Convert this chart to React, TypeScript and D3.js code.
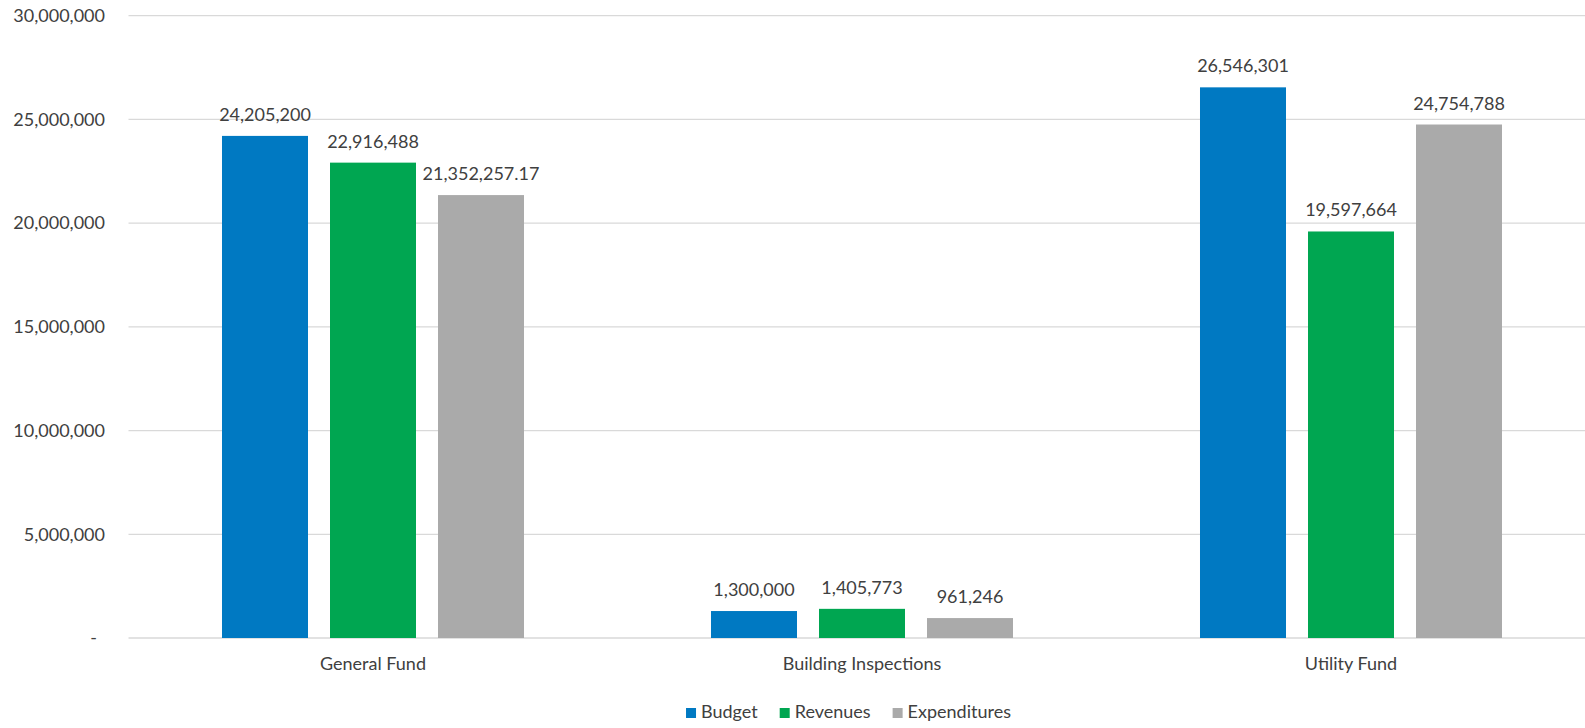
import { scaleBand, scaleLinear, format } from "d3";
import { useEffect, useMemo } from "react";

const categories = ["General Fund", "Building Inspections", "Utility Fund"];
const seriesNames = ["Budget", "Revenues", "Expenditures"];
const budget = [24205200, 1300000, 26546301];
const revenues = [22916488, 1405773, 19597664];
const expenditures = [21352257.17, 961246, 24754788];
const valueLabels = [
  ["24,205,200", "1,300,000", "26,546,301"],
  ["22,916,488", "1,405,773", "19,597,664"],
  ["21,352,257.17", "961,246", "24,754,788"]
];
const yTicks = [0, 5000000, 10000000, 15000000, 20000000, 25000000, 30000000];
const seriesColors = ["#0079c2", "#00a651", "#aaaaaa"];

const width = 1585;
const height = 728;
const plotLeft = 128.5;
const plotRight = 1595.5;
const plotTop = 15.7;
const plotBottom = 638;
const fontFamily = "Lato, 'Open Sans', sans-serif";
const fontSize = 18;
const textColor = "#404040";

function measure(text: string) {
  const canvas = document.createElement("canvas");
  const ctx = canvas.getContext("2d");
  if (!ctx) {
    return text.length * 9;
  }
  ctx.font = `${fontSize}px ${fontFamily}`;
  return ctx.measureText(text).width;
}

function App() {
  useEffect(() => {
    document.body.style.margin = "0";
  }, []);

  const seriesValues = [budget, revenues, expenditures];

  const x0 = useMemo(
    () => scaleBand<string>().domain(categories).range([plotLeft, plotRight]),
    []
  );
  const x1 = useMemo(
    () =>
      scaleBand<string>()
        .domain(seriesNames)
        .range([0, x0.bandwidth()])
        .paddingInner(0.2037)
        .paddingOuter(0.8657),
    [x0]
  );
  const y = useMemo(
    () => scaleLinear().domain([0, 30000000]).range([plotBottom, plotTop]),
    []
  );
  const tickFormat = format(",");

  const legendItems = useMemo(() => {
    const square = 10;
    const textGap = 5;
    const itemGap = 22;
    let cursor = 0;
    const items = seriesNames.map((name, i) => {
      const w = measure(name);
      const item = { name, color: seriesColors[i], x: cursor, textX: cursor + square + textGap };
      cursor += square + textGap + w + itemGap;
      return item;
    });
    const total = cursor - itemGap;
    const start = width / 2 + 56 - total / 2;
    return items.map((d) => ({ ...d, x: d.x + start, textX: d.textX + start }));
  }, []);

  return (
    <svg width={width} height={height} style={{ display: "block", background: "#fff" }}>
      <g fontFamily={fontFamily} fontSize={fontSize} fill={textColor}>
        {yTicks.map((t) => (
          <g key={`tick-${t}`}>
            <line
              x1={plotLeft}
              x2={plotRight}
              y1={y(t)}
              y2={y(t)}
              stroke="#d9d9d9"
              strokeWidth={t === 0 ? 1.6 : 1.3}
            />
            <text
              x={t === 0 ? 97 : 105}
              y={y(t)}
              dy="0.35em"
              textAnchor="end"
            >
              {t === 0 ? "-" : tickFormat(t)}
            </text>
          </g>
        ))}
        {categories.map((cat, ci) => {
          const gx = x0(cat) ?? 0;
          return (
            <g key={cat}>
              {seriesNames.map((s, si) => {
                const v = seriesValues[si][ci];
                const bx = gx + (x1(s) ?? 0);
                const bw = x1.bandwidth();
                return (
                  <g key={s}>
                    <rect
                      x={bx}
                      y={y(v)}
                      width={bw}
                      height={plotBottom - y(v)}
                      fill={seriesColors[si]}
                    />
                    <text x={bx + bw / 2} y={y(v) - 15} textAnchor="middle">
                      {valueLabels[si][ci]}
                    </text>
                  </g>
                );
              })}
              <text x={gx + x0.bandwidth() / 2} y={670} textAnchor="middle">
                {cat}
              </text>
            </g>
          );
        })}
        {legendItems.map((d) => (
          <g key={d.name}>
            <rect x={d.x} y={708} width={10} height={10} fill={d.color} />
            <text x={d.textX} y={718}>
              {d.name}
            </text>
          </g>
        ))}
      </g>
    </svg>
  );
}

export default App;
